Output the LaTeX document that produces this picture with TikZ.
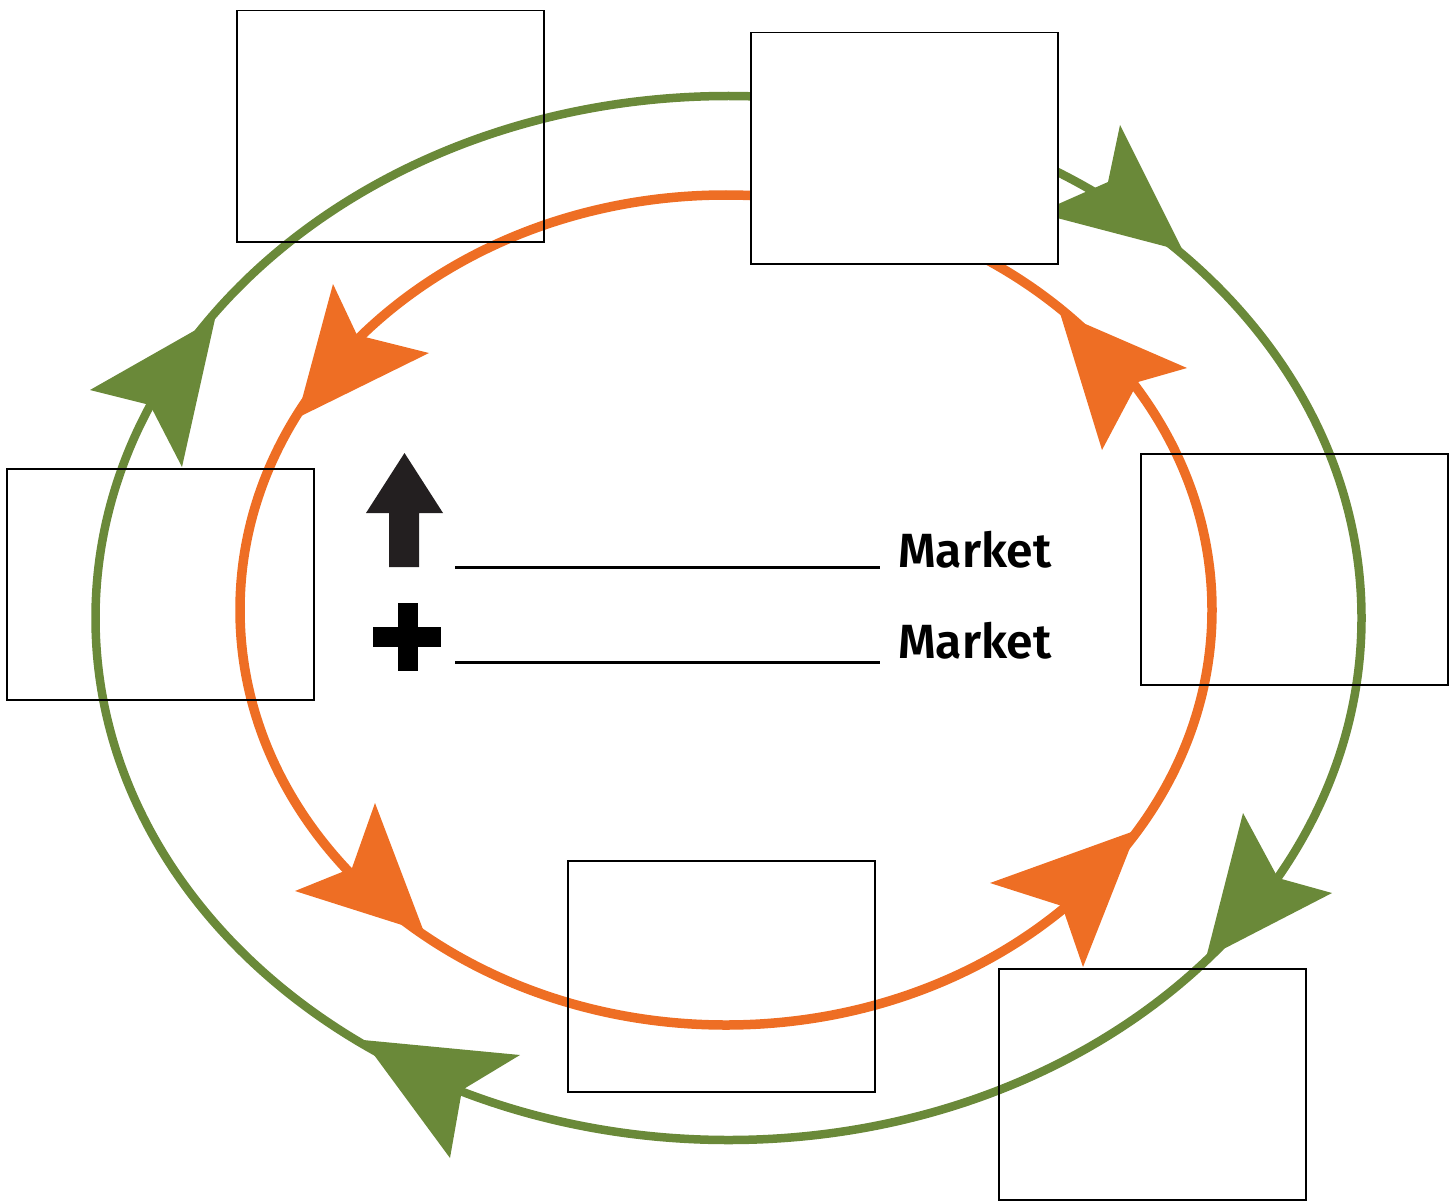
\documentclass[tikz,border=0pt]{standalone}
\usepackage{fontspec}
\setmainfont{Fira Sans}[BoldFont={Fira Sans SemiBold}]
\definecolor{cgreen}{RGB}{106,137,57}
\definecolor{corange}{RGB}{238,110,36}
\definecolor{iconblack}{RGB}{35,31,32}
\begin{document}
\begin{tikzpicture}[x=1pt,y=-1pt,
  box/.style={draw=black,line width=1.5pt,minimum width=307pt,minimum height=231pt,anchor=north west,inner sep=0pt},
  greenring/.style={draw=cgreen,line width=8.5pt},
  orangering/.style={draw=corange,line width=9.5pt},
  greenhead/.style={fill=cgreen},
  orangehead/.style={fill=corange},
  label/.style={anchor=base west,inner sep=0pt,font=\fontsize{48}{56}\selectfont\bfseries},
  blank/.style={draw=black,line width=3pt}]
\useasboundingbox (0,0) rectangle (1453,1201);
% rings
\draw[greenring] (728.5,618) ellipse [x radius=633, y radius=522];
\draw[orangering] (726,610) ellipse [x radius=486, y radius=415];
% green arrowheads (clockwise)
\fill[greenhead] (1183,251) -- (1120,125) -- (1108,182) -- (1038,213) -- cycle;
\fill[greenhead] (1206,958) -- (1243,813) -- (1278,878) -- (1332,893) -- cycle;
\fill[greenhead] (363,1040) -- (520,1055) -- (462,1090) -- (450,1158) -- cycle;
\fill[greenhead] (215,319) -- (90,390) -- (150,405) -- (182,467) -- cycle;
% orange arrowheads (counter-clockwise)
\fill[orangehead] (297,418) -- (333,284) -- (357,335) -- (429,353) -- cycle;
\fill[orangehead] (424,932) -- (375,803) -- (352,868) -- (295,891) -- cycle;
\fill[orangehead] (1137,830) -- (990,883) -- (1062,906) -- (1083,967) -- cycle;
\fill[orangehead] (1060,313) -- (1187,368) -- (1138,382) -- (1102,450) -- cycle;
% boxes
\node[box] (tl) at (236,10) {};
\node[box,fill=white] (tm) at (750,32) {};
\node[box] (lf) at (6,468) {};
\node[box] (rt) at (1140,453) {};
\node[box] (bm) at (567,860) {};
\node[box] (br) at (998,968) {};
% up arrow icon
\fill[iconblack] (404.5,453) -- (443,513) -- (419,513) -- (419,567) -- (389,567) -- (389,513) -- (366,513) -- cycle;
% plus icon
\fill[black] (397.5,603) rectangle (417.5,671);
\fill[black] (373,627) rectangle (441,647);
% blanks and labels
\coordinate (b1s) at (455,567.5);
\coordinate (b1e) at (880,567.5);
\coordinate (b2s) at (455,662.5);
\coordinate (b2e) at (880,662.5);
\draw[blank] (b1s) -- (b1e);
\draw[blank] (b2s) -- (b2e);
\node[label] (m1) at (898,567) {Market};
\node[label] (m2) at (898,658) {Market};
\end{tikzpicture}
\end{document}
